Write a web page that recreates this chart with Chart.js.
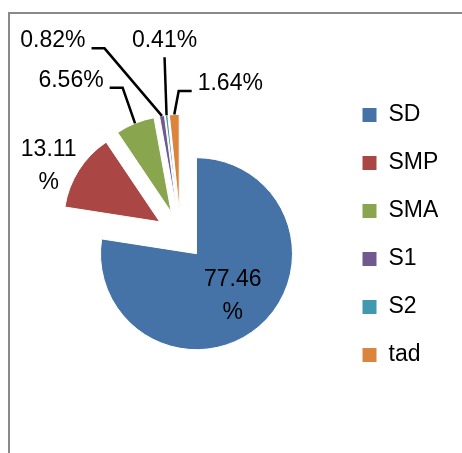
<!DOCTYPE html>
<html>
<head>
<meta charset="utf-8">
<title>Pie</title>
<script src="https://cdn.jsdelivr.net/npm/chart.js@4/dist/chart.umd.min.js"></script>
<style>
    html, body { margin: 0; padding: 0; background: #fff; overflow: hidden; }
    .chart_container { position: relative; width: 462px; height: 453px; }
    .frame { position: absolute; left: 8px; top: 12px; width: 600px; height: 600px;
             border-left: 2px solid #898989; border-top: 2px solid #898989; }
    #myPieChart { position: absolute; left: 0; top: 0; }
</style>
</head>
<body>
<div class="chart_container">
    <div class="frame"></div>
    <canvas id="myPieChart" width="462" height="453"></canvas>
</div>
<script>
let categories = ['SD', 'SMP', 'SMA', 'S1', 'S2', 'tad'];
let shares = [77.46, 13.11, 6.56, 0.82, 0.41, 1.64];
let sliceColors = ['#4572A7', '#AA4643', '#89A54E', '#71588F', '#4198AF', '#DB843D'];

// label look, roughly how excel left them
let fontFamily = '"Liberation Sans", Arial, sans-serif';
let explode = 24.6;
let wrapLabel = [true, true, false, false, false, false];
let showLeader = [false, false, true, true, true, true];
let labelShift = [null, [-30, -4], [-64, -43], [-109, -75], [-2, -75], [56, -31]];
let insideFactor = 0.58;

Chart.defaults.color = '#000';
Chart.defaults.font.family = fontFamily;

let ctx = document.getElementById('myPieChart').getContext('2d');

// excel style "exploded" pie: push every slice out along its middle angle
let explodePlugin = {
    id: 'explodePie',
    afterDatasetsUpdate(chart) {
        chart.getDatasetMeta(0).data.forEach(arc => {
            let mid = (arc.startAngle + arc.endAngle) / 2;
            arc.x += Math.cos(mid) * explode;
            arc.y += Math.sin(mid) * explode;
        });
    }
};

let labelPlugin = {
    id: 'pieLabels',
    afterDatasetsDraw(chart) {
        let c = chart.ctx;
        let arcs = chart.getDatasetMeta(0).data;
        c.save();
        c.font = '23px ' + fontFamily;
        c.fillStyle = '#000';
        c.strokeStyle = '#000';
        c.lineWidth = 2.5;
        c.textAlign = 'center';
        c.textBaseline = 'middle';
        arcs.forEach((arc, i) => {
            let mid = (arc.startAngle + arc.endAngle) / 2;
            let r = arc.outerRadius;
            let text = shares[i].toFixed(2);
            let lx, ly;
            if (labelShift[i] === null) {
                lx = arc.x + Math.cos(mid) * r * insideFactor;
                ly = arc.y + Math.sin(mid) * r * insideFactor;
            } else {
                let ax = arc.x + Math.cos(mid) * r;
                let ay = arc.y + Math.sin(mid) * r;
                lx = ax + labelShift[i][0];
                ly = ay + labelShift[i][1];
                if (showLeader[i]) {
                    let w = c.measureText(text + '%').width;
                    c.beginPath();
                    if (Math.abs(ax - lx) < w / 2) {
                        c.moveTo(lx, ly + 17);
                        c.lineTo(ax, ay);
                    } else {
                        let dir = ax > lx ? 1 : -1;
                        let x0 = lx + dir * (w / 2 + 6);
                        c.moveTo(x0, ly + 7.5);
                        c.lineTo(x0 + dir * 13, ly + 7.5);
                        c.lineTo(ax, ay);
                    }
                    c.stroke();
                }
            }
            if (wrapLabel[i]) {
                c.fillText(text, lx, ly - 16.5);
                c.fillText('%', lx, ly + 16.5);
            } else {
                c.fillText(text + '%', lx, ly);
            }
        });
        c.restore();
    }
};

let myPieChart = new Chart(ctx, {
    type: 'pie',
    data: {
        labels: categories,
        datasets: [{
            data: shares,
            backgroundColor: sliceColors,
            borderColor: '#fff',
            borderWidth: 1,
            radius: 96,
            clip: false
        }]
    },
    options: {
        responsive: false,
        animation: false,
        events: [],
        layout: { padding: { left: 24, right: 24, top: 17, bottom: 0 } },
        plugins: {
            tooltip: { enabled: false },
            legend: {
                position: 'right',
                maxWidth: 101,
                labels: {
                    boxWidth: 15,
                    boxHeight: 15,
                    padding: 25,
                    color: '#000',
                    font: { size: 23, family: fontFamily }
                }
            }
        }
    },
    plugins: [explodePlugin, labelPlugin]
});
</script>
</body>
</html>
